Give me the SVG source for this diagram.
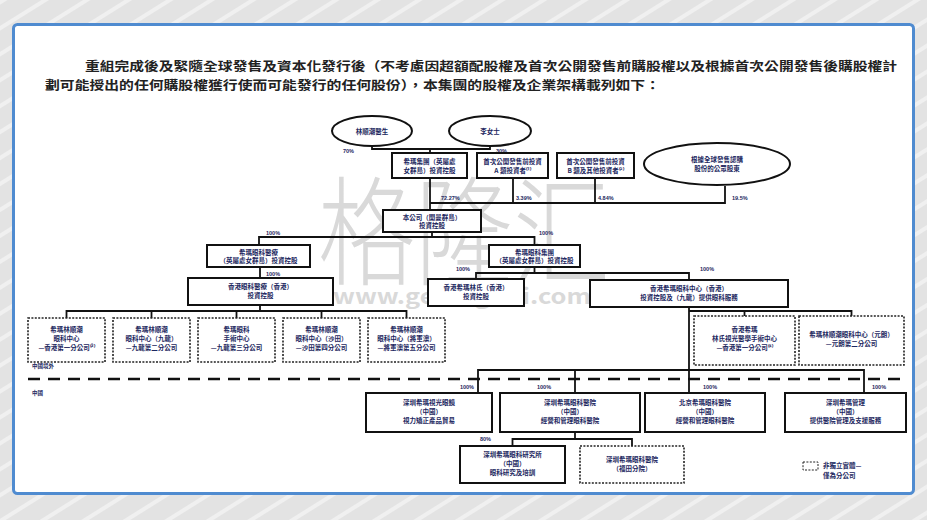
<svg xmlns="http://www.w3.org/2000/svg" width="927" height="520" viewBox="0 0 927 520">
<defs>
<pattern id="bg" width="22" height="22" patternUnits="userSpaceOnUse" patternTransform="rotate(-32)">
<rect width="22" height="22" fill="#e3e3e3"/>
<rect width="22" height="4" fill="#f0f0f0"/>
</pattern>
<style>
.box{fill:#fff;stroke:#111;stroke-width:2}
.dbox{fill:#fff;stroke:#222;stroke-width:1.6;stroke-dasharray:2 1.4}
.ell{fill:#fff;stroke:#111;stroke-width:2}
.t{font-family:"Noto Sans CJK TC","Liberation Sans",sans-serif;font-size:6.5px;font-weight:700;fill:#1c2760;text-anchor:middle}
.p{font-family:"Liberation Sans","Noto Sans CJK TC",sans-serif;font-size:5.5px;font-weight:700;fill:#1c2760}
.h{font-family:"Noto Sans CJK TC","Liberation Sans",sans-serif;font-size:12.5px;font-weight:700;fill:#222}
.c path{stroke:#111;stroke-width:1.8;fill:none}
.wm{font-family:"Noto Sans CJK SC","Liberation Sans",sans-serif;fill:#d9d9d9}
</style>
</defs>
<rect x="0" y="0" width="927" height="520" fill="url(#bg)"/>
<rect x="13.5" y="24.5" width="900" height="469" rx="4" fill="#fff" stroke="#4f8bd0" stroke-width="3"/>

<g id="watermark">
<text class="wm" x="318" y="276" font-size="118" font-weight="300" textLength="292" lengthAdjust="spacingAndGlyphs">格隆汇</text>
<text class="wm" x="333" y="304" font-size="21" font-weight="700" textLength="258" lengthAdjust="spacingAndGlyphs">www.gelonghui.com</text>
</g>

<g id="header">
<text class="h" x="85" y="71" textLength="812" lengthAdjust="spacingAndGlyphs">重組完成後及緊隨全球發售及資本化發行後（不考慮因超額配股權及首次公開發售前購股權以及根據首次公開發售後購股權計</text>
<text class="h" x="45" y="90" textLength="615" lengthAdjust="spacingAndGlyphs">劃可能授出的任何購股權獲行使而可能發行的任何股份），本集團的股權及企業架構載列如下：</text>
</g>

<g class="c" id="connectors">
<path d="M372,146 V149 H490 V146"/>
<path d="M430,149 V153"/>
<path d="M430,178 V210"/>
<path d="M430,203 H725 V186"/>
<path d="M513,178 V203"/>
<path d="M595,178 V203"/>
<path d="M432,232 V237"/>
<path d="M259,245 V237 H534.5 V245"/>
<path d="M260,267 V278"/>
<path d="M534.5,267 V273"/>
<path d="M476,279 V273 H689 V280"/>
<path d="M260,305 V311"/>
<path d="M66.5,318 V311 H406.5 V318"/>
<path d="M151.5,311 V318"/>
<path d="M236.5,311 V318"/>
<path d="M321.5,311 V318"/>
<path d="M689,307 V393"/>
<path d="M689,311 H851.5 V316"/>
<path d="M744.5,311 V316"/>
<path d="M478,393 V370 H864 V393"/>
<path d="M575,370 V393"/>
<path d="M575,432 V439"/>
<path d="M512.5,446 V439 H632 V446"/>
<path d="M28,379 H905" style="stroke-width:2.4;stroke-dasharray:12 8"/>
</g>

<g id="labels">
<text class="p" x="343" y="153">70%</text>
<text class="p" x="496" y="153">30%</text>
<text class="p" x="441" y="200">72.27%</text>
<text class="p" x="516" y="200">3.39%</text>
<text class="p" x="598" y="200">4.84%</text>
<text class="p" x="732" y="200">19.5%</text>
<text class="p" x="266" y="235">100%</text>
<text class="p" x="539" y="235">100%</text>
<text class="p" x="266" y="276">100%</text>
<text class="p" x="470" y="271" text-anchor="end">100%</text>
<text class="p" x="700" y="271">100%</text>
<text class="p" x="474" y="389" text-anchor="end">100%</text>
<text class="p" x="537" y="389">100%</text>
<text class="p" x="703" y="389">100%</text>
<text class="p" x="872" y="389">100%</text>
<text class="p" x="480" y="441">80%</text>
<text class="p" x="32" y="368">中國境外</text>
<text class="p" x="32" y="395">中國</text>
</g>

<g id="e1"><ellipse class="ell" cx="372" cy="131" rx="40" ry="15"/><text class="t" x="372" y="133.5">林順潮醫生</text></g>
<g id="e2"><ellipse class="ell" cx="490" cy="131" rx="41" ry="15"/><text class="t" x="490" y="133.5">李女士</text></g>
<g id="b1"><rect class="box" x="392" y="153" width="75" height="25"/><text class="t" x="429.5" y="164">希瑪集團（英屬處</text><text class="t" x="429.5" y="173">女群島）投資控股</text></g>
<g id="b2"><rect class="box" x="477" y="153" width="71" height="25"/><text class="t" x="512.5" y="164">首次公開發售前投資</text><text class="t" x="512.5" y="173">A 類投資者⁽¹⁾</text></g>
<g id="b3"><rect class="box" x="557" y="153" width="77" height="25"/><text class="t" x="595.5" y="164">首次公開發售前投資</text><text class="t" x="595.5" y="173">B 類及其他投資者⁽²⁾</text></g>
<g id="e3"><ellipse class="ell" cx="717" cy="164" rx="73" ry="21"/><text class="t" x="717" y="162">根據全球發售認購</text><text class="t" x="717" y="170.5">股份的公眾股東</text></g>
<g id="main"><rect class="box" x="383" y="210" width="98" height="22"/><text class="t" x="432" y="219.5">本公司（開曼群島）</text><text class="t" x="432" y="228">投資控股</text></g>
<g id="l1"><rect class="box" x="207" y="245" width="103" height="22"/><text class="t" x="258.5" y="254.5">希瑪眼科醫療</text><text class="t" x="258.5" y="263">（英屬處女群島）投資控股</text></g>
<g id="r1"><rect class="box" x="489" y="245" width="91" height="22"/><text class="t" x="534.5" y="254.5">希瑪眼科集團</text><text class="t" x="534.5" y="263">（英屬處女群島）投資控股</text></g>
<g id="l2"><rect class="box" x="188" y="278" width="145" height="27"/><text class="t" x="260.5" y="289">香港眼科醫療（香港）</text><text class="t" x="260.5" y="298">投資控股</text></g>
<g id="m2"><rect class="box" x="428" y="279" width="96" height="27"/><text class="t" x="476" y="290">香港希瑪林氏（香港）</text><text class="t" x="476" y="299">投資控股</text></g>
<g id="r2"><rect class="box" x="590" y="280" width="198" height="27"/><text class="t" x="689" y="291">香港希瑪眼科中心（香港）</text><text class="t" x="689" y="300">投資控股及（九龍）提供眼科服務</text></g>

<g id="d1"><rect class="dbox" x="28" y="318" width="77" height="44"/><text class="t" x="66.5" y="332">希瑪林順潮</text><text class="t" x="66.5" y="341">眼科中心</text><text class="t" x="66.5" y="350">—香港第一分公司⁽³⁾</text></g>
<g id="d2"><rect class="dbox" x="113" y="318" width="77" height="44"/><text class="t" x="151.5" y="332">希瑪林順潮</text><text class="t" x="151.5" y="341">眼科中心（九龍）</text><text class="t" x="151.5" y="350">—九龍第二分公司</text></g>
<g id="d3"><rect class="dbox" x="198" y="318" width="77" height="44"/><text class="t" x="236.5" y="332">希瑪眼科</text><text class="t" x="236.5" y="341">手術中心</text><text class="t" x="236.5" y="350">—九龍第三分公司</text></g>
<g id="d4"><rect class="dbox" x="283" y="318" width="77" height="44"/><text class="t" x="321.5" y="332">希瑪林順潮</text><text class="t" x="321.5" y="341">眼科中心（沙田）</text><text class="t" x="321.5" y="350">—沙田第四分公司</text></g>
<g id="d5"><rect class="dbox" x="368" y="318" width="77" height="44"/><text class="t" x="406.5" y="332">希瑪林順潮</text><text class="t" x="406.5" y="341">眼科中心（將軍澳）</text><text class="t" x="406.5" y="350">—將軍澳第五分公司</text></g>
<g id="d6"><rect class="dbox" x="694" y="316" width="101" height="49"/><text class="t" x="744.5" y="332">香港希瑪</text><text class="t" x="744.5" y="341">林氏視光醫學手術中心</text><text class="t" x="744.5" y="350">—香港第一分公司⁽⁴⁾</text></g>
<g id="d7"><rect class="dbox" x="799" y="316" width="105" height="49"/><text class="t" x="851.5" y="337">希瑪林順潮眼科中心（元朗）</text><text class="t" x="851.5" y="346">—元朗第二分公司</text></g>

<g id="c1"><rect class="box" x="366" y="393" width="126" height="39"/><text class="t" x="429" y="405">深圳希瑪視光眼鏡</text><text class="t" x="429" y="414">（中國）</text><text class="t" x="429" y="423">視力矯正產品貿易</text></g>
<g id="c2"><rect class="box" x="500" y="393" width="140" height="39"/><text class="t" x="570" y="405">深圳希瑪眼科醫院</text><text class="t" x="570" y="414">（中國）</text><text class="t" x="570" y="423">經營和管理眼科醫院</text></g>
<g id="c3"><rect class="box" x="645" y="393" width="120" height="39"/><text class="t" x="705" y="405">北京希瑪眼科醫院</text><text class="t" x="705" y="414">（中國）</text><text class="t" x="705" y="423">經營和管理眼科醫院</text></g>
<g id="c4"><rect class="box" x="785" y="393" width="121" height="39"/><text class="t" x="845.5" y="405">深圳希瑪管理</text><text class="t" x="845.5" y="414">（中國）</text><text class="t" x="845.5" y="423">提供醫院管理及支援服務</text></g>
<g id="c5"><rect class="box" x="460" y="446" width="105" height="37"/><text class="t" x="512.5" y="457">深圳希瑪眼科研究所</text><text class="t" x="512.5" y="466">（中國）</text><text class="t" x="512.5" y="475">眼科研究及培訓</text></g>
<g id="c6"><rect class="dbox" x="580" y="446" width="104" height="37"/><text class="t" x="632" y="462">深圳希瑪眼科醫院</text><text class="t" x="632" y="471">（福田分院）</text></g>

<g id="legend"><rect class="dbox" x="803" y="462" width="15" height="8" style="stroke-width:1"/><text class="t" x="823" y="468" style="text-anchor:start">非獨立實體—</text><text class="t" x="823" y="478" style="text-anchor:start">僅為分公司</text></g>
</svg>
